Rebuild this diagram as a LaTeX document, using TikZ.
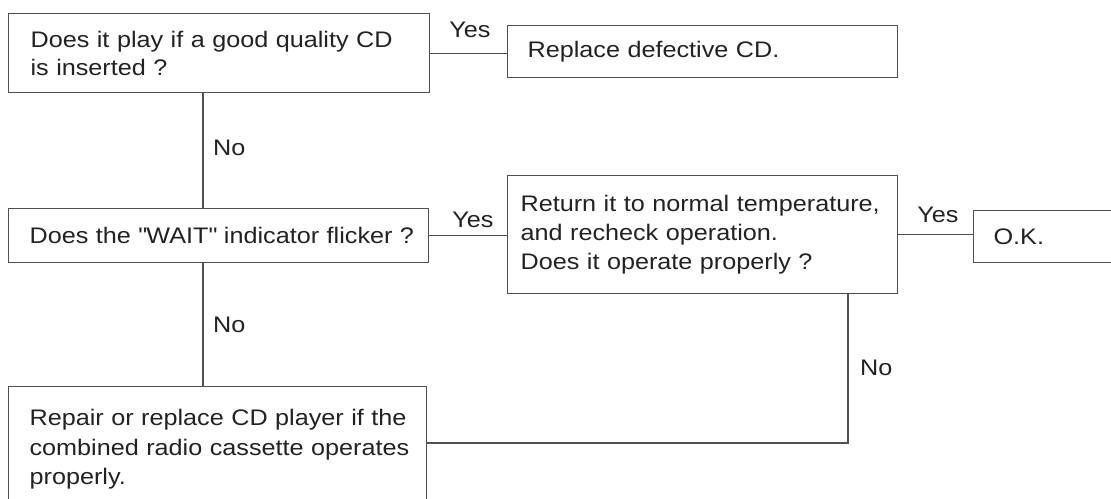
\documentclass[tikz,border=0pt]{standalone}
\usepackage{fontspec}
\setmainfont{Liberation Sans}[FakeStretch=1.12]
\definecolor{ink}{HTML}{222222}
\definecolor{rule}{HTML}{505050}
\begin{document}
\begin{tikzpicture}[x=1pt,y=-1pt,
  every node/.style={text=ink,font=\fontsize{22.5}{28}\selectfont},
  box/.style={draw=rule,line width=1.2pt,anchor=north west,inner ysep=0pt,align=left},
  conn/.style={draw=rule,line width=1.1pt},
  lab/.style={inner sep=0pt}]
\useasboundingbox (0,0) rectangle (1111,498);
\fill[white] (0,0) rectangle (1111,498);
% boxes
\node[box,text width=377pt,inner xsep=22pt,minimum height=79pt] (b1) at (8,13)
  {\mbox{Does it play if a good quality CD}\\\mbox{is inserted ?}};
\node[box,text width=350pt,inner xsep=20pt,minimum height=52pt] (b2) at (507,25)
  {\mbox{Replace defective CD.}};
\node[box,text width=378pt,inner xsep=21pt,minimum height=54pt] (b3) at (8,208)
  {\mbox{Does the \textquotedbl WAIT\textquotedbl\ indicator flicker ?}};
\node[box,text width=364pt,inner xsep=13pt,minimum height=118pt,font=\fontsize{22.5}{29}\selectfont] (b4) at (507,175)
  {\mbox{Return it to normal temperature,}\\\mbox{and recheck operation.}\\\mbox{Does it operate properly ?}};
\node[box,text width=140pt,inner xsep=20pt,minimum height=52pt] (b5) at (973,210)
  {O.K.};
\node[box,text width=376pt,inner xsep=21pt,inner ysep=23pt,font=\fontsize{22.5}{29.5}\selectfont] (b6) at (8,386)
  {\mbox{Repair or replace CD player if the}\\\mbox{combined radio cassette operates}\\\mbox{properly.}\\[6pt]};
% routing coordinates
\coordinate (xL) at (203,0);
\coordinate (xR) at (848,0);
\coordinate (yH) at (0,443);
% connectors
\draw[conn] (b1.south -| xL) -- (b3.north -| xL);
\draw[conn] (b3.south -| xL) -- (b6.north -| xL);
\draw[conn] (b1.east) -- (b1.east -| b2.west);
\draw[conn] (b3.east) -- (b3.east -| b4.west);
\draw[conn] (b4.east) -- (b4.east -| b5.west);
\draw[conn] (b4.south -| xR) |- (b6.east |- yH);
% labels
\node[lab] (y1) at (470,30) {Yes};
\node[lab] (y2) at (473,220) {Yes};
\node[lab] (y3) at (938,215) {Yes};
\node[lab,anchor=west] (n1) at (213,148) {No};
\node[lab,anchor=west] (n2) at (213,325) {No};
\node[lab,anchor=west] (n3) at (860,368) {No};
\end{tikzpicture}
\end{document}
